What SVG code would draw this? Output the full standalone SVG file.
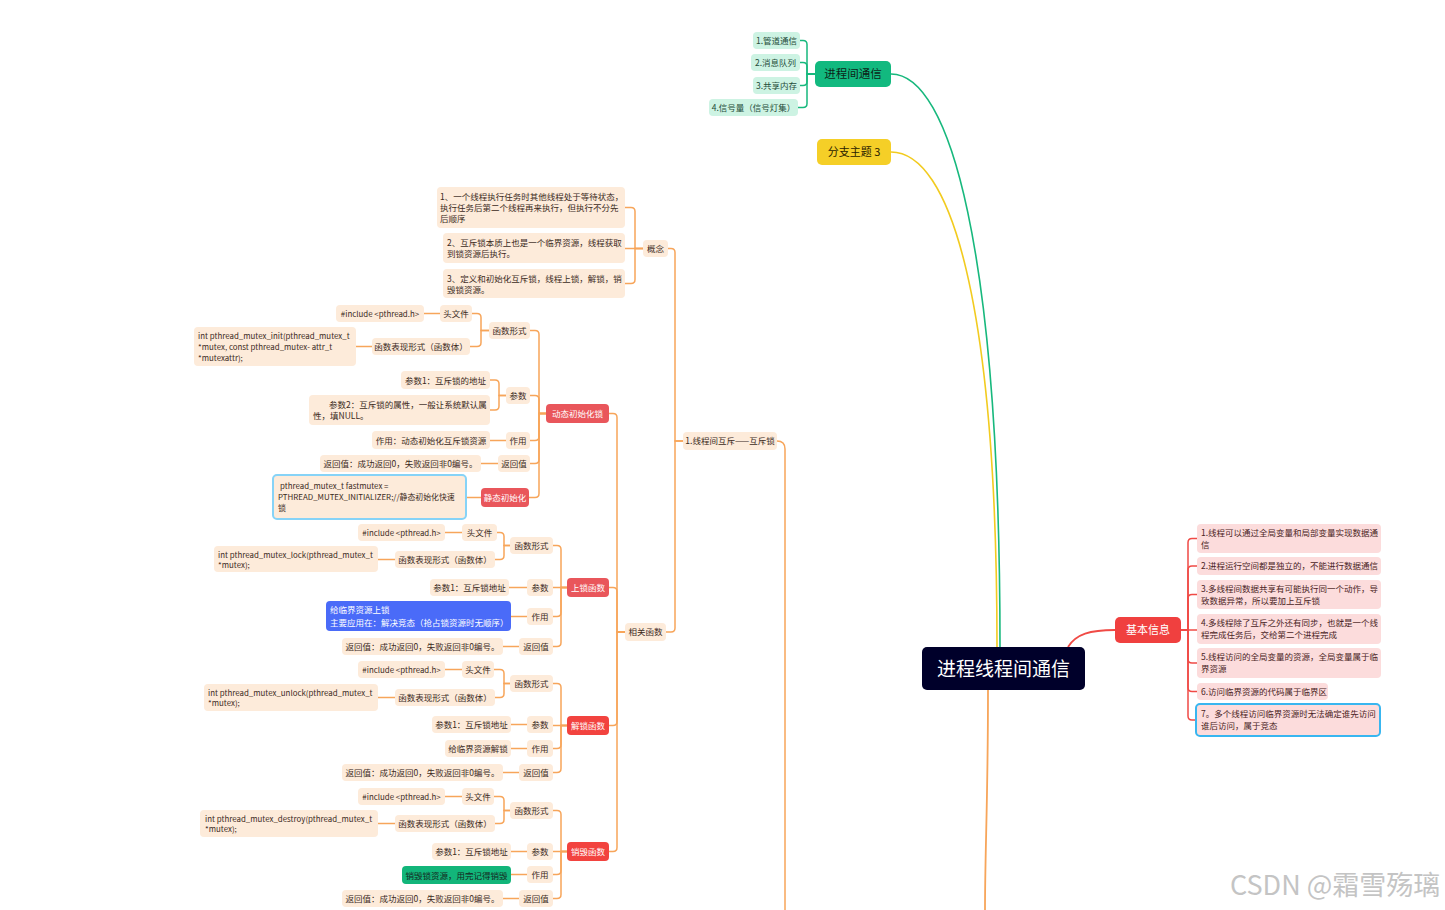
<svg xmlns="http://www.w3.org/2000/svg" width="1445" height="910" viewBox="0 0 1445 910">
<style>
text{font-family:"Noto Sans CJK SC","Noto Sans",sans-serif;}
.p rect{fill:#fdebda;}
.p text{font-size:8.5px;fill:#3b2a1c;}
.p text.s{font-size:7.9px;}
.c{text-anchor:middle;}
.r rect{fill:#e9565b;}
.r2 rect{fill:#f2433f;}
.r text,.r2 text{font-size:8.5px;fill:#fff;text-anchor:middle;}
.g rect{fill:#cdf3e3;}
.g text{font-size:8.5px;fill:#1f4d3a;text-anchor:middle;}
.k rect{fill:#fcdcdc;}
.k text{font-size:8.5px;fill:#4a2424;}
.co path{fill:none;stroke:#f7a55a;stroke-width:1.5;}
.cg path{fill:none;stroke:#17b87d;stroke-width:1.5;}
.cr path{fill:none;stroke:#f04a45;stroke-width:1.5;}
</style>
<rect width="1445" height="910" fill="#fff"/>

<g id="connectors">
  <path d="M1000 647C1000 250 950 74 891 74" fill="none" stroke="#17b87d" stroke-width="1.6"/>
  <path d="M997 647C997 300 950 152 891 152" fill="none" stroke="#f2cb1f" stroke-width="1.6"/>
  <path d="M1068 647C1076 634 1090 630 1115 630" fill="none" stroke="#f04a45" stroke-width="1.8"/>
  <path d="M988 690C988 800 985 850 985 910" fill="none" stroke="#f7a55a" stroke-width="1.8"/>
  <path d="M777 441Q785 441 785 449V910" fill="none" stroke="#f7a55a" stroke-width="1.5"/>
  <g class="cg">
    <path d="M815 74H807V44.5Q807 40.5 803 40.5H800"/>
    <path d="M815 74H807V66.5Q807 62.5 803 62.5H800"/>
    <path d="M815 74H807V81.5Q807 85.5 803 85.5H800"/>
    <path d="M815 74H807V103.5Q807 107.5 803 107.5H798"/>
  </g>
  <g class="cr">
    <path d="M1181 630H1188V542.5Q1188 538.5 1192 538.5H1197"/>
    <path d="M1181 630H1188V570Q1188 566 1192 566H1197"/>
    <path d="M1181 630H1188V598.5Q1188 594.5 1192 594.5H1197"/>
    <path d="M1181 630H1197"/>
    <path d="M1181 630H1188V659Q1188 663 1192 663H1197"/>
    <path d="M1181 630H1188V687.5Q1188 691.5 1192 691.5H1197"/>
    <path d="M1181 630H1188V716Q1188 720 1192 720H1195"/>
  </g>
  <g class="co">
    <path d="M683 441H675V252.5Q675 248.5 671 248.5H668"/>
    <path d="M683 441H675V628Q675 632 671 632H666"/>
    <path d="M643 248.5H635V211.5Q635 207.5 631 207.5H625"/>
    <path d="M643 248.5H625"/>
    <path d="M643 248.5H635V279.5Q635 283.5 631 283.5H625"/>
    <path d="M625 632H617V417.5Q617 413.5 613 413.5H609"/>
    <path d="M625 632H617V591.5Q617 587.5 613 587.5H609"/>
    <path d="M625 632H617V721.5Q617 725.5 613 725.5H609"/>
    <path d="M625 632H617V847.5Q617 851.5 613 851.5H609"/>
    <path d="M546 413.5H539V334.5Q539 330.5 535 330.5H530"/>
    <path d="M546 413.5H539V399.5Q539 395.5 535 395.5H530"/>
    <path d="M546 413.5H539V436.5Q539 440.5 535 440.5H530"/>
    <path d="M546 413.5H539V459.5Q539 463.5 535 463.5H530"/>
    <path d="M546 413.5H539V493.5Q539 497.5 535 497.5H529"/>
    <path d="M489 330.5H481V317.5Q481 313.5 477 313.5H472"/>
    <path d="M489 330.5H481V342.5Q481 346.5 477 346.5H470"/>
    <path d="M440 313.5H424"/>
    <path d="M372 346.5H356"/>
    <path d="M506 395.5H499V384Q499 380 495 380H490"/>
    <path d="M506 395.5H499V406Q499 410 495 410H490"/>
    <path d="M506 440.5H490"/>
    <path d="M498 463.5H481"/>
    <path d="M481 497.5H466"/>
    <path d="M567 587.5H561V549.5Q561 545.5 557 545.5H553"/>
    <path d="M567 587.5H553"/>
    <path d="M567 587.5H561V612.5Q561 616.5 557 616.5H553"/>
    <path d="M567 587.5H561V642.5Q561 646.5 557 646.5H553"/>
    <path d="M510 545.5H504V536.5Q504 532.5 500 532.5H497"/>
    <path d="M510 545.5H504V555.5Q504 559.5 500 559.5H495"/>
    <path d="M462 532.5H445"/>
    <path d="M395 559.5H378"/>
    <path d="M527 587.5H509"/>
    <path d="M527 616.5H511"/>
    <path d="M519 646.5H503"/>
    <path d="M567 725.5H561V687.5Q561 683.5 557 683.5H553"/>
    <path d="M567 725.5H553"/>
    <path d="M567 725.5H561V744.5Q561 748.5 557 748.5H553"/>
    <path d="M567 725.5H561V768.5Q561 772.5 557 772.5H553"/>
    <path d="M510 683.5H504V673.5Q504 669.5 500 669.5H494"/>
    <path d="M510 683.5H504V693.5Q504 697.5 500 697.5H495"/>
    <path d="M462 669.5H445"/>
    <path d="M395 697.5H378"/>
    <path d="M527 724.5H511"/>
    <path d="M527 748.5H511"/>
    <path d="M519 772.5H503"/>
    <path d="M567 851.5H561V814.5Q561 810.5 557 810.5H553"/>
    <path d="M567 851.5H553"/>
    <path d="M567 851.5H561V870.5Q561 874.5 557 874.5H553"/>
    <path d="M567 851.5H561V894.5Q561 898.5 557 898.5H553"/>
    <path d="M510 810.5H504V800.5Q504 796.5 500 796.5H494"/>
    <path d="M510 810.5H504V819.5Q504 823.5 500 823.5H495"/>
    <path d="M462 796.5H445"/>
    <path d="M395 823.5H378"/>
    <path d="M527 851.5H511"/>
    <path d="M527 874.5H511"/>
    <path d="M519 898.5H503"/>
  </g>
</g>

<g id="root"><rect x="922" y="647" width="163" height="43" rx="5" fill="#00002a"/><text x="1003.5" y="676" font-size="19" fill="#fff" text-anchor="middle">进程线程间通信</text></g>

<g id="ipc"><rect x="815" y="61" width="76" height="26" rx="5" fill="#12b97f"/><text x="853" y="78" font-size="11.5" fill="#0d1f17" text-anchor="middle">进程间通信</text></g>
<g id="ipc1" class="g"><rect x="753" y="32" width="47" height="17" rx="4"/><text x="776.5" y="44">1.管道通信</text></g>
<g id="ipc2" class="g"><rect x="751" y="54" width="49" height="17" rx="4"/><text x="775.5" y="66">2.消息队列</text></g>
<g id="ipc3" class="g"><rect x="753" y="77" width="47" height="17" rx="4"/><text x="776.5" y="89">3.共享内存</text></g>
<g id="ipc4" class="g"><rect x="709" y="99" width="89" height="17" rx="4"/><text x="753.5" y="111">4.信号量（信号灯集）</text></g>

<g id="branch3"><rect x="817" y="139" width="74" height="26" rx="5" fill="#f5cf27"/><text x="854" y="156" font-size="11" fill="#2a2200" text-anchor="middle">分支主题 3</text></g>

<g id="basic"><rect x="1115" y="617" width="66" height="26" rx="5" fill="#f0403f"/><text x="1148" y="634" font-size="11" fill="#fff" text-anchor="middle">基本信息</text></g>
<g id="b1" class="k"><rect x="1197" y="524" width="184" height="29" rx="4"/><text x="1201" y="536">1.线程可以通过全局变量和局部变量实现数据通</text><text x="1201" y="548">信</text></g>
<g id="b2" class="k"><rect x="1197" y="557" width="184" height="18" rx="4"/><text x="1201" y="569">2.进程运行空间都是独立的，不能进行数据通信</text></g>
<g id="b3" class="k"><rect x="1197" y="580" width="184" height="29" rx="4"/><text x="1201" y="592">3.多线程间数据共享有可能执行同一个动作，导</text><text x="1201" y="604">致数据异常，所以要加上互斥锁</text></g>
<g id="b4" class="k"><rect x="1197" y="614" width="184" height="30" rx="4"/><text x="1201" y="626">4.多线程除了互斥之外还有同步，也就是一个线</text><text x="1201" y="638">程完成任务后，交给第二个进程完成</text></g>
<g id="b5" class="k"><rect x="1197" y="648" width="184" height="30" rx="4"/><text x="1201" y="660">5.线程访问的全局变量的资源，全局变量属于临</text><text x="1201" y="672">界资源</text></g>
<g id="b6" class="k"><rect x="1197" y="683" width="131" height="17" rx="4"/><text x="1201" y="695">6.访问临界资源的代码属于临界区</text></g>
<g id="b7" class="k"><rect x="1196" y="704" width="184" height="32" rx="4" stroke="#38b6f0" stroke-width="2"/><text x="1201" y="717">7。多个线程访问临界资源时无法确定谁先访问</text><text x="1201" y="729">谁后访问，属于竞态</text></g>

<g id="mutex" class="p"><rect x="683" y="432" width="94" height="18" rx="4"/><text class="c" x="730" y="444">1.线程间互斥——互斥锁</text></g>
<g id="concept" class="p"><rect x="643" y="240" width="25" height="17" rx="4"/><text class="c" x="655.5" y="252">概念</text></g>
<g id="c1" class="p"><rect x="437" y="187" width="188" height="41" rx="4"/><text x="440" y="200">1、一个线程执行任务时其他线程处于等待状态，</text><text x="440" y="211">执行任务后第二个线程再来执行，但执行不分先</text><text x="440" y="222">后顺序</text></g>
<g id="c2" class="p"><rect x="443" y="233" width="182" height="30" rx="4"/><text x="447" y="246">2、互斥锁本质上也是一个临界资源，线程获取</text><text x="447" y="257">到锁资源后执行。</text></g>
<g id="c3" class="p"><rect x="443" y="269" width="182" height="29" rx="4"/><text x="447" y="282">3、定义和初始化互斥锁，线程上锁，解锁，销</text><text x="447" y="293">毁锁资源。</text></g>
<g id="funcs" class="p"><rect x="625" y="623" width="41" height="18" rx="4"/><text class="c" x="645.5" y="635">相关函数</text></g>

<g id="init" class="r"><rect x="546" y="404" width="63" height="19" rx="4"/><text x="577.5" y="417">动态初始化锁</text></g>
<g id="i-form" class="p"><rect x="489" y="322" width="41" height="17" rx="4"/><text class="c" x="509.5" y="334">函数形式</text></g>
<g id="i-head" class="p"><rect x="440" y="305" width="32" height="17" rx="4"/><text class="c" x="456" y="317">头文件</text></g>
<g id="i-inc" class="p"><rect x="336" y="305" width="88" height="17" rx="4"/><text class="c s" x="380" y="317">#include &lt;pthread.h&gt;</text></g>
<g id="i-body" class="p"><rect x="372" y="338" width="98" height="17" rx="4"/><text class="c" x="421" y="350">函数表现形式（函数体）</text></g>
<g id="i-proto" class="p"><rect x="194" y="327" width="162" height="39" rx="4"/><text class="s" x="198" y="339">int  pthread_mutex_init(pthread_mutex_t</text><text class="s" x="198" y="350">*mutex, const pthread_mutex- attr_t</text><text class="s" x="198" y="361">*mutexattr);</text></g>
<g id="i-param" class="p"><rect x="506" y="387" width="24" height="17" rx="4"/><text class="c" x="518" y="399">参数</text></g>
<g id="i-p1" class="p"><rect x="401" y="371" width="89" height="18" rx="4"/><text class="c" x="445.5" y="384">参数1：互斥锁的地址</text></g>
<g id="i-p2" class="p"><rect x="309" y="395" width="181" height="30" rx="4"/><text x="329" y="408">参数2：互斥锁的属性，一般让系统默认属</text><text x="313" y="419">性，填NULL。</text></g>
<g id="i-use" class="p"><rect x="506" y="432" width="24" height="17" rx="4"/><text class="c" x="518" y="444">作用</text></g>
<g id="i-use1" class="p"><rect x="372" y="431" width="118" height="18" rx="4"/><text class="c" x="431" y="444">作用：动态初始化互斥锁资源</text></g>
<g id="i-ret" class="p"><rect x="498" y="455" width="32" height="17" rx="4"/><text class="c" x="514" y="467">返回值</text></g>
<g id="i-ret1" class="p"><rect x="320" y="455" width="161" height="17" rx="4"/><text class="c" x="400.5" y="467">返回值：成功返回0，失败返回非0编号。</text></g>
<g id="static" class="r"><rect x="481" y="488" width="48" height="19" rx="4"/><text x="505" y="501">静态初始化</text></g>
<g id="static1" class="p"><rect x="273" y="475" width="193" height="44" rx="4" stroke="#86d3f7" stroke-width="2"/><text class="s" x="280" y="489">pthread_mutex_t fastmutex =</text><text class="s" x="278" y="500">PTHREAD_MUTEX_INITIALIZER;//静态初始化快速</text><text class="s" x="278" y="511">锁</text></g>

<g id="lock" class="r"><rect x="567" y="578" width="42" height="19" rx="4"/><text x="588" y="591">上锁函数</text></g>
<g id="l-form" class="p"><rect x="510" y="537" width="43" height="17" rx="4"/><text class="c" x="531.5" y="549">函数形式</text></g>
<g id="l-head" class="p"><rect x="462" y="524" width="35" height="17" rx="4"/><text class="c" x="479.5" y="536">头文件</text></g>
<g id="l-inc" class="p"><rect x="358" y="524" width="87" height="17" rx="4"/><text class="c s" x="401.5" y="536">#include &lt;pthread.h&gt;</text></g>
<g id="l-body" class="p"><rect x="395" y="551" width="100" height="17" rx="4"/><text class="c" x="445" y="563">函数表现形式（函数体）</text></g>
<g id="l-proto" class="p"><rect x="214" y="546" width="164" height="26" rx="4"/><text class="s" x="218" y="558">int pthread_mutex_lock(pthread_mutex_t</text><text class="s" x="218" y="568">*mutex);</text></g>
<g id="l-param" class="p"><rect x="527" y="579" width="26" height="17" rx="4"/><text class="c" x="540" y="591">参数</text></g>
<g id="l-p1" class="p"><rect x="430" y="579" width="79" height="17" rx="4"/><text class="c" x="469.5" y="591">参数1：互斥锁地址</text></g>
<g id="l-use" class="p"><rect x="527" y="608" width="26" height="17" rx="4"/><text class="c" x="540" y="620">作用</text></g>
<g id="l-use1"><rect x="326" y="601" width="185" height="30" rx="4" fill="#4a6bf8"/><text x="330" y="613" font-size="8.5" fill="#fff">给临界资源上锁</text><text x="330" y="626" font-size="8.5" fill="#fff">主要应用在：解决竞态（抢占锁资源时无顺序）</text></g>
<g id="l-ret" class="p"><rect x="519" y="638" width="34" height="17" rx="4"/><text class="c" x="536" y="650">返回值</text></g>
<g id="l-ret1" class="p"><rect x="342" y="638" width="161" height="17" rx="4"/><text class="c" x="422.5" y="650">返回值：成功返回0，失败返回非0编号。</text></g>

<g id="unlock" class="r2"><rect x="567" y="716" width="42" height="19" rx="4"/><text x="588" y="729">解锁函数</text></g>
<g id="u-form" class="p"><rect x="510" y="675" width="43" height="17" rx="4"/><text class="c" x="531.5" y="687">函数形式</text></g>
<g id="u-head" class="p"><rect x="462" y="661" width="32" height="17" rx="4"/><text class="c" x="478" y="673">头文件</text></g>
<g id="u-inc" class="p"><rect x="358" y="661" width="87" height="17" rx="4"/><text class="c s" x="401.5" y="673">#include &lt;pthread.h&gt;</text></g>
<g id="u-body" class="p"><rect x="395" y="689" width="100" height="17" rx="4"/><text class="c" x="445" y="701">函数表现形式（函数体）</text></g>
<g id="u-proto" class="p"><rect x="204" y="684" width="174" height="27" rx="4"/><text class="s" x="208" y="696">int pthread_mutex_unlock(pthread_mutex_t</text><text class="s" x="208" y="706">*mutex);</text></g>
<g id="u-param" class="p"><rect x="527" y="716" width="26" height="17" rx="4"/><text class="c" x="540" y="728">参数</text></g>
<g id="u-p1" class="p"><rect x="432" y="716" width="79" height="17" rx="4"/><text class="c" x="471.5" y="728">参数1：互斥锁地址</text></g>
<g id="u-use" class="p"><rect x="527" y="740" width="26" height="17" rx="4"/><text class="c" x="540" y="752">作用</text></g>
<g id="u-use1" class="p"><rect x="445" y="740" width="66" height="17" rx="4"/><text class="c" x="478" y="752">给临界资源解锁</text></g>
<g id="u-ret" class="p"><rect x="519" y="764" width="34" height="17" rx="4"/><text class="c" x="536" y="776">返回值</text></g>
<g id="u-ret1" class="p"><rect x="342" y="764" width="161" height="17" rx="4"/><text class="c" x="422.5" y="776">返回值：成功返回0，失败返回非0编号。</text></g>

<g id="destroy" class="r2"><rect x="567" y="842" width="42" height="19" rx="4"/><text x="588" y="855">销毁函数</text></g>
<g id="d-form" class="p"><rect x="510" y="802" width="43" height="17" rx="4"/><text class="c" x="531.5" y="814">函数形式</text></g>
<g id="d-head" class="p"><rect x="462" y="788" width="32" height="17" rx="4"/><text class="c" x="478" y="800">头文件</text></g>
<g id="d-inc" class="p"><rect x="358" y="788" width="87" height="17" rx="4"/><text class="c s" x="401.5" y="800">#include &lt;pthread.h&gt;</text></g>
<g id="d-body" class="p"><rect x="395" y="815" width="100" height="17" rx="4"/><text class="c" x="445" y="827">函数表现形式（函数体）</text></g>
<g id="d-proto" class="p"><rect x="200" y="810" width="178" height="27" rx="4"/><text class="s" x="205" y="822">int pthread_mutex_destroy(pthread_mutex_t</text><text class="s" x="205" y="832">*mutex);</text></g>
<g id="d-param" class="p"><rect x="527" y="843" width="26" height="17" rx="4"/><text class="c" x="540" y="855">参数</text></g>
<g id="d-p1" class="p"><rect x="432" y="843" width="79" height="17" rx="4"/><text class="c" x="471.5" y="855">参数1：互斥锁地址</text></g>
<g id="d-use" class="p"><rect x="527" y="866" width="26" height="17" rx="4"/><text class="c" x="540" y="878">作用</text></g>
<g id="d-use1"><rect x="402" y="866" width="109" height="18" rx="4" fill="#12b57a"/><text x="456.5" y="879" font-size="8.5" fill="#15251c" text-anchor="middle">销毁锁资源，用完记得销毁</text></g>
<g id="d-ret" class="p"><rect x="519" y="890" width="34" height="17" rx="4"/><text class="c" x="536" y="902">返回值</text></g>
<g id="d-ret1" class="p"><rect x="342" y="890" width="161" height="17" rx="4"/><text class="c" x="422.5" y="902">返回值：成功返回0，失败返回非0编号。</text></g>

<text x="1230" y="895" font-size="27" fill="#c4c4c4">CSDN @霜雪殇璃</text>
</svg>
